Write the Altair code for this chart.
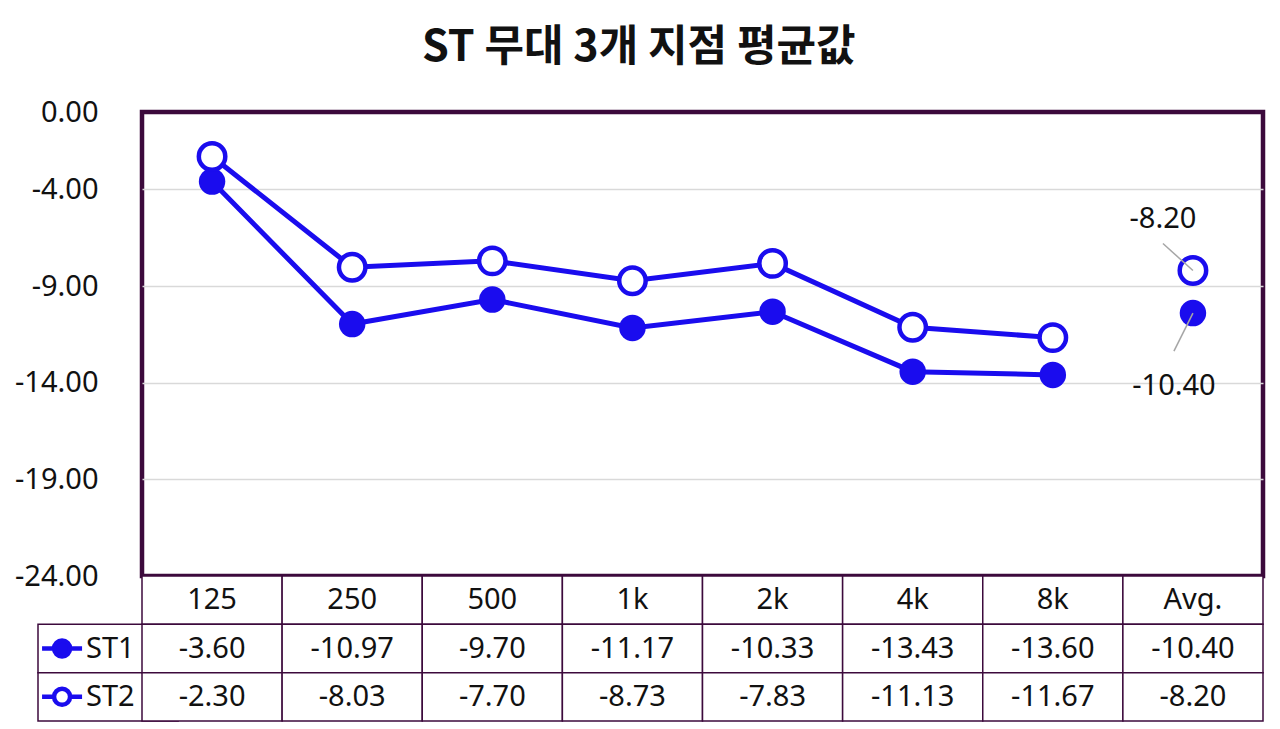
import altair as alt
import pandas as pd

# ---------------- data ----------------
categories = ["125", "250", "500", "1k", "2k", "4k", "8k", "Avg."]
st1 = [-3.60, -10.97, -9.70, -11.17, -10.33, -13.43, -13.60, -10.40]
st2 = [-2.30, -8.03, -7.70, -8.73, -7.83, -11.13, -11.67, -8.20]
series_names = ["ST1", "ST2"]
y_ticks = [0, -4, -9, -14, -19, -24]
title_text = "ST 무대 3개 지점 평균값"

BLUE = "#1a0cee"
PURPLE = "#3c0a3c"
GRID = "#d9d9d9"
TXT = "#111111"
FONT = "Noto Sans"
FS = 29

rows = []
for name, vals in zip(series_names, [st1, st2]):
    for c, v in zip(categories, vals):
        rows.append({"cat": c, "series": name, "v": v, "label": f"{v:.2f}"})
df = pd.DataFrame(rows)

trows = [{"cat": c, "row": "hdr", "text": c} for c in categories]
for name, vals in zip(series_names, [st1, st2]):
    for c, v in zip(categories, vals):
        trows.append({"cat": c, "row": name, "text": f"{v:.2f}"})
tdf = pd.DataFrame(trows)
ldf = pd.DataFrame([{"cat": categories[0], "row": n} for n in series_names])
row_order = ["hdr"] + series_names

# ---------------- top plot ----------------
xs = alt.X("cat:N", sort=categories,
           scale=alt.Scale(type="band", domain=categories, paddingInner=0, paddingOuter=0),
           axis=None)
ys = alt.Y("v:Q",
           scale=alt.Scale(domain=[-24, 0], nice=False, zero=False),
           axis=alt.Axis(values=y_ticks, title=None,
                         labelExpr="replace(format(datum.value, '.2f'), '\u2212', '-')",
                         labelFont=FONT, labelFontSize=FS, labelColor=TXT,
                         labelPadding=44, ticks=False, domain=False, grid=True,
                         gridColor={"condition": {"test": "datum.value === 0 || datum.value === -24",
                                                  "value": "transparent"},
                                    "value": GRID},
                         gridWidth=1.5))

base = alt.Chart(df).encode(x=xs, y=ys)
no_avg = "datum.cat !== 'Avg.'"

line1 = base.mark_line(color=BLUE, strokeWidth=5).transform_filter(
    no_avg).transform_filter("datum.series === 'ST1'")
pts1 = base.mark_point(shape="circle", filled=True, size=700, fill=BLUE,
                       stroke=BLUE, strokeWidth=0, opacity=1).transform_filter("datum.series === 'ST1'")
line2 = base.mark_line(color=BLUE, strokeWidth=5).transform_filter(
    no_avg).transform_filter("datum.series === 'ST2'")
pts2 = base.mark_point(shape="circle", filled=True, size=700, fill="white",
                       stroke=BLUE, strokeWidth=4.5, opacity=1).transform_filter("datum.series === 'ST2'")

avg2 = base.transform_filter("datum.cat === 'Avg.' && datum.series === 'ST2'")
avg1 = base.transform_filter("datum.cat === 'Avg.' && datum.series === 'ST1'")
lead2 = avg2.mark_rule(color="#a6a6a6", strokeWidth=1.5, x2Offset=-30, y2Offset=-27).encode(
    x2=alt.X2("cat:N"), y2=alt.Y2("v:Q"))
lead1 = avg1.mark_rule(color="#a6a6a6", strokeWidth=1.5, x2Offset=-19, y2Offset=38).encode(
    x2=alt.X2("cat:N"), y2=alt.Y2("v:Q"))
lab2 = avg2.mark_text(font=FONT, fontSize=FS, color=TXT, dx=-30, dy=-52).encode(text="label:N")
lab1 = avg1.mark_text(font=FONT, fontSize=FS, color=TXT, dx=-19, dy=73).encode(text="label:N")

top = alt.layer(line1, pts1, line2, pts2, lead2, lead1, lab2, lab1).properties(
    width=1121, height=464,
    view=alt.ViewBackground(stroke=PURPLE, strokeWidth=4.5))

# ---------------- data table ----------------
tx = alt.X("cat:N", sort=categories,
           scale=alt.Scale(type="band", domain=categories, paddingInner=0, paddingOuter=0),
           axis=None)
ty = alt.Y("row:N", sort=row_order,
           scale=alt.Scale(type="band", domain=row_order, paddingInner=0, paddingOuter=0),
           axis=None)

leg_cells = alt.Chart(ldf).mark_rect(fill="white", stroke=PURPLE, strokeWidth=1.5,
                                     xOffset=-104).encode(x=tx, y=ty)
cells = alt.Chart(tdf).mark_rect(fill="white", stroke=PURPLE, strokeWidth=1.5).encode(x=tx, y=ty)
cell_text = alt.Chart(tdf).mark_text(font=FONT, fontSize=FS, color=TXT, baseline="middle").encode(
    x=tx, y=ty, text="text:N")

sym_path = ("M-1,0L-0.4,0M0.4,0L1,0M-0.4,0A0.4,0.4,0,1,0,0.4,0"
            "A0.4,0.4,0,1,0,-0.4,0Z")
leg_sym = alt.Chart(ldf).mark_point(shape=sym_path, size=1600, filled=True, stroke=BLUE,
                                    strokeWidth=4.5, opacity=1, xOffset=-150).encode(
    x=tx, y=ty,
    fill=alt.Fill("row:N", scale=alt.Scale(domain=series_names, range=[BLUE, "white"]), legend=None))
leg_text = alt.Chart(ldf).mark_text(font=FONT, fontSize=FS, color=TXT, align="left",
                                    baseline="middle", xOffset=-126).encode(
    x=tx, y=ty, text="row:N")

bottom = alt.layer(leg_cells, cells, cell_text, leg_sym, leg_text).properties(
    width=1121, height=145,
    view=alt.ViewBackground(stroke="transparent"))

chart = alt.vconcat(top, bottom, spacing=0, bounds="flush").resolve_scale(
    x="independent", y="independent").properties(
    title=alt.TitleParams(text=title_text, font="Noto Sans CJK KR", fontSize=43,
                          fontWeight="bold", color=TXT, anchor="middle", frame="bounds",
                          offset=26),
    padding={"left": 4, "top": 18, "right": 5, "bottom": 0},
    background="white",
)

chart.save("out.html", embed_options={"renderer": "svg", "actions": False})
